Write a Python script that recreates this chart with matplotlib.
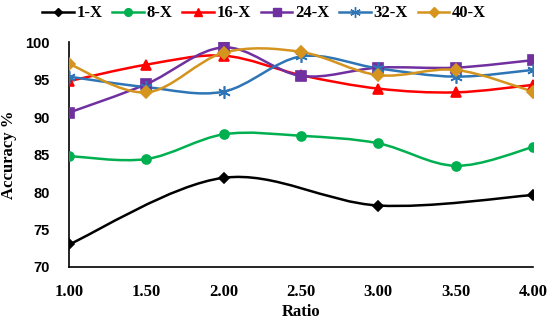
import numpy as np
import matplotlib.pyplot as plt
from matplotlib.path import Path
from matplotlib.patches import PathPatch
from matplotlib.lines import Line2D

# data
ratio = [1.0, 1.5, 2.0, 2.5, 3.0, 3.5, 4.0]
ratio_1x = [1.0, 2.0, 3.0, 4.0]
acc_1x = [73.0, 81.9, 78.2, 79.6]
acc_8x = [84.8, 84.4, 87.7, 87.5, 86.5, 83.5, 86.0]
acc_16x = [94.8, 97.0, 98.2, 95.6, 93.8, 93.3, 94.3]
acc_24x = [90.6, 94.4, 99.3, 95.5, 96.6, 96.6, 97.6]
acc_32x = [95.4, 94.0, 93.4, 98.1, 96.5, 95.4, 96.3]
acc_40x = [97.1, 93.3, 98.6, 98.7, 95.6, 96.3, 93.4]

labels = ["1-X", "8-X", "16-X", "24-X", "32-X", "40-X"]
colors = ["#000000", "#00B050", "#FF0000", "#7030A0", "#2E75B6", "#D4941E"]
markers = ["D", "o", "^", "s", (6, 2, 0), "D"]
msizes = [5, 6.5, 7, 7.5, 9, 6]


def smooth_path(x, y):
    # Excel-like smoothed line: Catmull-Rom segments as cubic Beziers
    pts = np.column_stack([x, y]).astype(float)
    n = len(pts)
    verts = [pts[0]]
    codes = [Path.MOVETO]
    for i in range(n - 1):
        p0 = pts[max(i - 1, 0)]
        p1 = pts[i]
        p2 = pts[i + 1]
        p3 = pts[min(i + 2, n - 1)]
        c1 = p1 + (p2 - p0) / 6.0
        c2 = p2 - (p3 - p1) / 6.0
        verts += [c1, c2, p2]
        codes += [Path.CURVE4] * 3
    return Path(verts, codes)


fig = plt.figure(figsize=(5.5, 3.22), dpi=100)
ax = fig.add_axes([0.1255, 0.171, 0.8435, 0.698])

series = [(ratio_1x, acc_1x)] + [(ratio, s) for s in
                                 [acc_8x, acc_16x, acc_24x, acc_32x, acc_40x]]
handles = []
for (xs, ys), lab, c, m, ms in zip(series, labels, colors, markers, msizes):
    ax.add_patch(PathPatch(smooth_path(xs, ys), facecolor="none",
                           edgecolor=c, lw=1.8, zorder=2))
    ax.plot(xs, ys, linestyle="none", marker=m, color=c, ms=ms,
            mew=1.2, zorder=3)
    handles.append(Line2D([], [], color=c, lw=1.8, marker=m,
                          ms=ms * 0.85, mew=1.0))

ax.set_xlim(1, 4)
ax.set_ylim(70, 100)
ax.set_xticks(ratio)
ax.set_xticklabels([f"{v:.2f}" for v in ratio], family="Liberation Serif",
                   fontweight="bold", fontsize=12)
ax.set_yticks(np.arange(70, 101, 5))
ax.set_yticklabels([str(v) for v in range(70, 101, 5)],
                   family="Liberation Sans", fontweight="bold", fontsize=10.5)
ax.tick_params(length=0)
ax.tick_params(axis="y", pad=14)
ax.tick_params(axis="x", pad=12)
for s in ["top", "right"]:
    ax.spines[s].set_visible(False)
for s in ["left", "bottom"]:
    ax.spines[s].set_linewidth(1.2)

ax.set_xlabel("Ratio", family="Liberation Serif", fontweight="bold",
              fontsize=12, labelpad=3)
ax.set_ylabel("Accuracy %", family="Liberation Serif", fontweight="bold",
              fontsize=12, labelpad=6)

fig.legend(handles, labels, loc="upper center", bbox_to_anchor=(0.48, 1.03),
           ncol=6, frameon=False, handlelength=1.9, handletextpad=0.15,
           columnspacing=0.6,
           prop={"family": "Liberation Serif", "weight": "bold", "size": 12})

fig.savefig("out.png", dpi=100)
